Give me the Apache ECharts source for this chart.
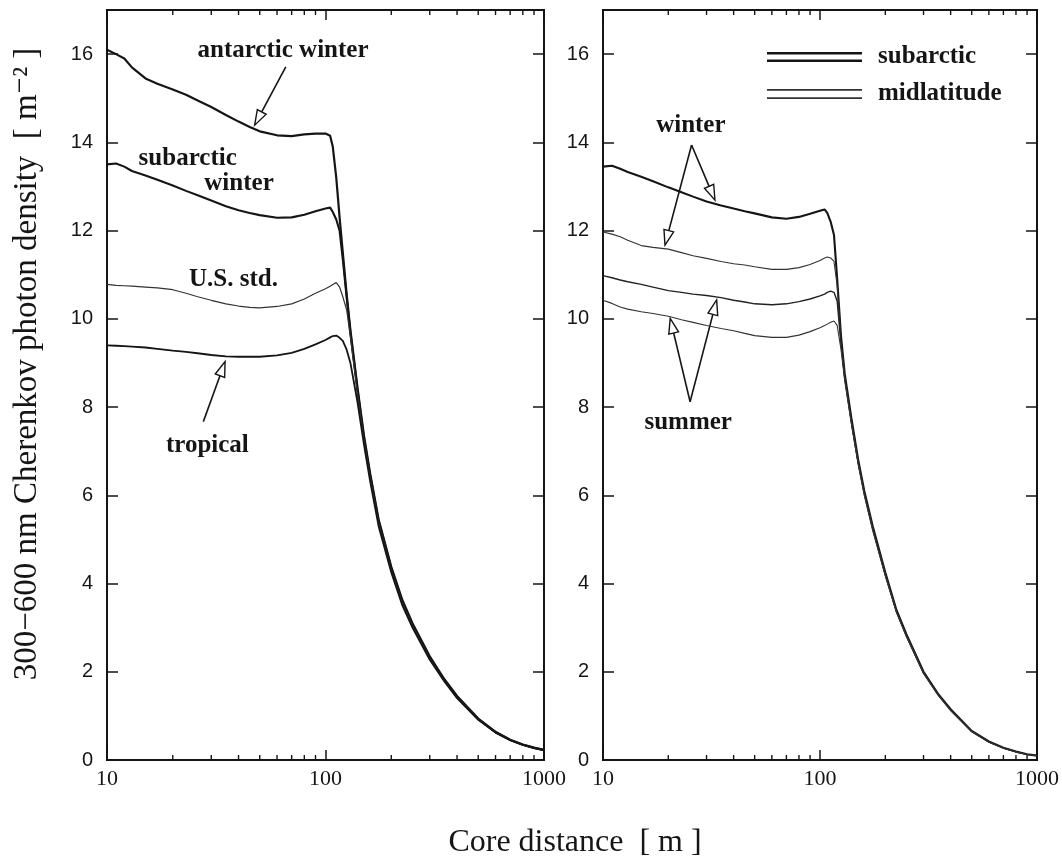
<!DOCTYPE html>
<html>
<head>
<meta charset="utf-8">
<script src="https://cdn.jsdelivr.net/npm/echarts@6/dist/echarts.min.js"></script>
<style>
html, body { margin: 0; padding: 0; background: #fff; }
#main { width: 1062px; height: 861px; }
</style>
</head>
<body>
<div id="main"></div>
<script>
// core distance [m], shared by every curve
var distance = [10, 11, 12, 13, 15, 17, 20, 23, 26, 30, 35, 40, 45, 50, 60, 70, 80, 90, 100, 105,
  108, 112, 116, 120, 125, 130, 140, 150, 160, 175, 200, 225, 250, 300, 350, 400, 500, 600, 700, 800, 900, 1000];

// left panel
var antarcticWinter = [16.1, 16.0, 15.9, 15.7, 15.45, 15.33, 15.2, 15.08, 14.95, 14.8, 14.62, 14.47, 14.35, 14.25, 14.16, 14.14, 14.18, 14.2, 14.2, 14.15,
  13.9, 13.2, 12.3, 11.5, 10.55, 9.75, 8.45, 7.35, 6.5, 5.45, 4.38, 3.62, 3.1, 2.35, 1.83, 1.45, 0.94, 0.64, 0.46, 0.35, 0.28, 0.23];
var subarcticWinterL = [13.5, 13.52, 13.45, 13.35, 13.25, 13.15, 13.02, 12.9, 12.8, 12.68, 12.55, 12.46, 12.4, 12.35, 12.29, 12.3, 12.36, 12.44, 12.5, 12.52,
  12.42, 12.25, 12.0, 11.35, 10.48, 9.68, 8.4, 7.3, 6.46, 5.42, 4.34, 3.58, 3.07, 2.32, 1.81, 1.43, 0.93, 0.63, 0.455, 0.345, 0.275, 0.225];
var usStandard = [10.78, 10.76, 10.75, 10.74, 10.72, 10.7, 10.66, 10.58, 10.5, 10.42, 10.34, 10.29, 10.26, 10.25, 10.28, 10.34, 10.45, 10.58, 10.68, 10.74,
  10.78, 10.82, 10.72, 10.5, 10.2, 9.58, 8.3, 7.25, 6.4, 5.37, 4.29, 3.54, 3.03, 2.29, 1.79, 1.41, 0.92, 0.62, 0.45, 0.34, 0.27, 0.22];
var tropical = [9.4, 9.39, 9.38, 9.37, 9.35, 9.32, 9.28, 9.25, 9.22, 9.18, 9.15, 9.14, 9.14, 9.14, 9.17, 9.23, 9.32, 9.42, 9.52, 9.58,
  9.61, 9.62, 9.57, 9.5, 9.3, 9.0, 8.12, 7.15, 6.32, 5.3, 4.25, 3.5, 3.0, 2.27, 1.78, 1.4, 0.91, 0.62, 0.45, 0.34, 0.27, 0.22];

// right panel
var subarcticWinterR = [13.45, 13.47, 13.4, 13.33, 13.22, 13.12, 12.98, 12.87, 12.77, 12.66, 12.57, 12.5, 12.44, 12.39, 12.3, 12.27, 12.31, 12.38, 12.45, 12.48,
  12.4, 12.2, 11.9, 10.9, 9.6, 8.75, 7.7, 6.8, 6.1, 5.3, 4.25, 3.4, 2.85, 2.0, 1.5, 1.15, 0.66, 0.42, 0.28, 0.19, 0.13, 0.1];
var midlatWinter = [11.97, 11.92, 11.86, 11.78, 11.66, 11.62, 11.58, 11.5, 11.43, 11.37, 11.3, 11.25, 11.22, 11.18, 11.12, 11.12, 11.16, 11.23, 11.32, 11.38,
  11.4, 11.38, 11.3, 10.75, 9.5, 8.68, 7.63, 6.75, 6.06, 5.26, 4.21, 3.37, 2.83, 1.98, 1.49, 1.14, 0.65, 0.41, 0.275, 0.186, 0.128, 0.1];
var subarcticSummer = [10.98, 10.93, 10.88, 10.84, 10.78, 10.72, 10.64, 10.6, 10.56, 10.53, 10.48, 10.42, 10.38, 10.34, 10.32, 10.34, 10.39, 10.45, 10.52, 10.56,
  10.6, 10.63, 10.6, 10.4, 9.42, 8.65, 7.6, 6.72, 6.03, 5.23, 4.19, 3.36, 2.81, 1.97, 1.48, 1.13, 0.65, 0.41, 0.27, 0.184, 0.127, 0.1];
var midlatSummer = [10.42, 10.35, 10.27, 10.22, 10.16, 10.12, 10.06, 9.98, 9.92, 9.85, 9.78, 9.73, 9.67, 9.62, 9.58, 9.58, 9.63, 9.71, 9.8, 9.85,
  9.88, 9.92, 9.95, 9.85, 9.3, 8.6, 7.57, 6.7, 6.0, 5.2, 4.17, 3.35, 2.8, 1.96, 1.47, 1.12, 0.64, 0.4, 0.265, 0.18, 0.125, 0.1];

// axis ticks
var yTicks = [0, 2, 4, 6, 8, 10, 12, 14, 16];
var minorTicks = [20, 30, 40, 50, 60, 70, 80, 90, 200, 300, 400, 500, 600, 700, 800, 900];

// annotations, in data units (distance, density)
var leftTexts = ['antarctic winter', 'subarctic', 'winter', 'U.S. std.', 'tropical'];
var leftTextAt = [[63.9, 16.09], [23.4, 13.64], [40.2, 13.06], [37.9, 10.9], [28.8, 7.12]];
var leftArrows = [[65.8, 15.71, 47.4, 14.39], [27.6, 7.67, 34.7, 9.03]];
var rightTexts = ['winter', 'summer'];
var rightTextAt = [[25.4, 14.39], [24.7, 7.64]];
var rightArrows = [[25.6, 13.94, 32.8, 12.69], [25.6, 13.94, 19.3, 11.67],
  [25.2, 8.12, 20.4, 10.01], [25.2, 8.12, 33.4, 10.43]];

var INK = '#151515';
var serif = '"Liberation Serif", "DejaVu Serif", serif';
var sans = '"Liberation Sans", Arial, sans-serif';

function pairs(vals) {
  return distance.map(function (d, i) { return [d, vals[i]]; });
}

function xAxes(gridIndex) {
  var base = {
    type: 'log', logBase: 10, gridIndex: gridIndex, min: 10, max: 1000,
    axisLine: { show: true, onZero: false, lineStyle: { color: INK, width: 2 } },
    axisTick: { show: true, inside: true, length: 10, lineStyle: { color: INK, width: 1.5 } },
    splitLine: { show: false }
  };
  var bottom = Object.assign({}, base, {
    position: 'bottom',
    axisLabel: { fontFamily: serif, fontSize: 22, color: INK, margin: 8,
      formatter: function (v) { return String(Math.round(v)); } }
  });
  var top = Object.assign({}, base, { position: 'top', axisLabel: { show: false } });
  return [bottom, top];
}

function yAxes(gridIndex) {
  var base = {
    type: 'value', gridIndex: gridIndex, min: 0, max: 17,
    axisLine: { show: true, onZero: false, lineStyle: { color: INK, width: 2 } },
    axisTick: { show: true, inside: true, length: 11, customValues: yTicks, lineStyle: { color: INK, width: 1.5 } },
    splitLine: { show: false }
  };
  var left = Object.assign({}, base, {
    position: 'left',
    axisLabel: { customValues: yTicks, fontFamily: sans, fontSize: 20, color: INK, margin: 14 }
  });
  var right = Object.assign({}, base, { position: 'right', axisLabel: { show: false } });
  return [left, right];
}

function curve(name, vals, axis, width, color) {
  return {
    name: name, type: 'line', xAxisIndex: axis, yAxisIndex: axis,
    data: pairs(vals), showSymbol: false, symbol: 'none', silent: true,
    color: color || INK, itemStyle: { color: color || INK },
    lineStyle: { color: color || INK, width: width }
  };
}

function tickSeries(axis) {
  return {
    type: 'custom', xAxisIndex: axis, yAxisIndex: axis, silent: true, clip: false,
    data: minorTicks.map(function (v) { return [v, 0]; }),
    encode: { x: 0, y: 1 },
    renderItem: function (params, api) {
      var b = api.coord([api.value(0), 0]);
      var t = api.coord([api.value(0), 17]);
      var st = { stroke: INK, lineWidth: 1.4 };
      return { type: 'group', children: [
        { type: 'line', shape: { x1: b[0], y1: b[1], x2: b[0], y2: b[1] - 5 }, style: st },
        { type: 'line', shape: { x1: t[0], y1: t[1], x2: t[0], y2: t[1] + 5 }, style: st }
      ] };
    }
  };
}

function arrowSeries(axis, list) {
  return {
    type: 'custom', xAxisIndex: axis, yAxisIndex: axis, silent: true, clip: false,
    data: list, encode: { x: [0, 2], y: [1, 3] },
    renderItem: function (params, api) {
      var a = api.coord([api.value(0), api.value(1)]);
      var b = api.coord([api.value(2), api.value(3)]);
      var dx = b[0] - a[0], dy = b[1] - a[1];
      var len = Math.sqrt(dx * dx + dy * dy), ux = dx / len, uy = dy / len;
      var hl = 15, hw = 5;
      var base = [b[0] - ux * hl, b[1] - uy * hl];
      var p1 = [base[0] - uy * hw, base[1] + ux * hw];
      var p2 = [base[0] + uy * hw, base[1] - ux * hw];
      return { type: 'group', children: [
        { type: 'line', shape: { x1: a[0], y1: a[1], x2: base[0], y2: base[1] }, style: { stroke: INK, lineWidth: 1.6 } },
        { type: 'polygon', shape: { points: [b, p1, p2] }, style: { fill: '#fff', stroke: INK, lineWidth: 1.4 } }
      ] };
    }
  };
}

function textSeries(axis, texts, at) {
  return {
    type: 'custom', xAxisIndex: axis, yAxisIndex: axis, silent: true, clip: false,
    data: at, encode: { x: 0, y: 1 },
    renderItem: function (params, api) {
      var p = api.coord([api.value(0), api.value(1)]);
      return { type: 'text', x: p[0], y: p[1], style: {
        text: texts[params.dataIndex], fill: INK, font: 'bold 25px ' + serif,
        align: 'center', verticalAlign: 'middle' } };
    }
  };
}

var chart = echarts.init(document.getElementById('main'));

var option = {
  animation: false,
  backgroundColor: '#fff',
  grid: [
    { left: 107, top: 10, width: 437, height: 750, show: true, borderColor: INK, borderWidth: 2 },
    { left: 603, top: 10, width: 434, height: 750, show: true, borderColor: INK, borderWidth: 2 }
  ],
  xAxis: xAxes(0).concat(xAxes(1)),
  yAxis: yAxes(0).concat(yAxes(1)),
  legend: {
    data: [
      { name: 'subarctic', icon: 'path://M0,0H100V3H0Z M0,9H100V12H0Z' },
      { name: 'midlatitude', icon: 'path://M0,0H100V2H0Z M0,10H100V12H0Z' }
    ],
    orient: 'vertical', left: 762, top: 39, itemWidth: 95, itemHeight: 10, itemGap: 11,
    symbolKeepAspect: false, selectedMode: false,
    textStyle: { fontFamily: serif, fontWeight: 'bold', fontSize: 25, lineHeight: 26, color: INK, padding: [0, 0, 0, 11] }
  },
  graphic: [
    { type: 'text', x: 27, y: 364, rotation: Math.PI / 2, silent: true,
      style: { text: '300\u2212600 nm Cherenkov photon density  [ m\u207B\u00B2 ]', font: '33px ' + serif,
        fill: INK, align: 'center', verticalAlign: 'middle' } },
    { type: 'text', x: 575, y: 843, silent: true,
      style: { text: 'Core distance  [ m ]', font: '32px ' + serif, fill: INK, align: 'center', verticalAlign: 'middle' } }
  ],
  series: [
    curve('antarctic winter', antarcticWinter, 0, 2.2),
    curve('subarctic winter', subarcticWinterL, 0, 2.1),
    curve('U.S. std.', usStandard, 0, 1.2, '#333'),
    curve('tropical', tropical, 0, 1.8),
    tickSeries(0),
    arrowSeries(0, leftArrows),
    textSeries(0, leftTexts, leftTextAt),

    curve('subarctic', subarcticWinterR, 2, 2.1),
    curve('midlatitude', midlatWinter, 2, 1.1, '#333'),
    curve('subarctic', subarcticSummer, 2, 1.4, '#222'),
    curve('midlatitude', midlatSummer, 2, 1.1, '#333'),
    tickSeries(2),
    arrowSeries(2, rightArrows),
    textSeries(2, rightTexts, rightTextAt)
  ]
};

chart.setOption(option);
</script>
</body>
</html>
